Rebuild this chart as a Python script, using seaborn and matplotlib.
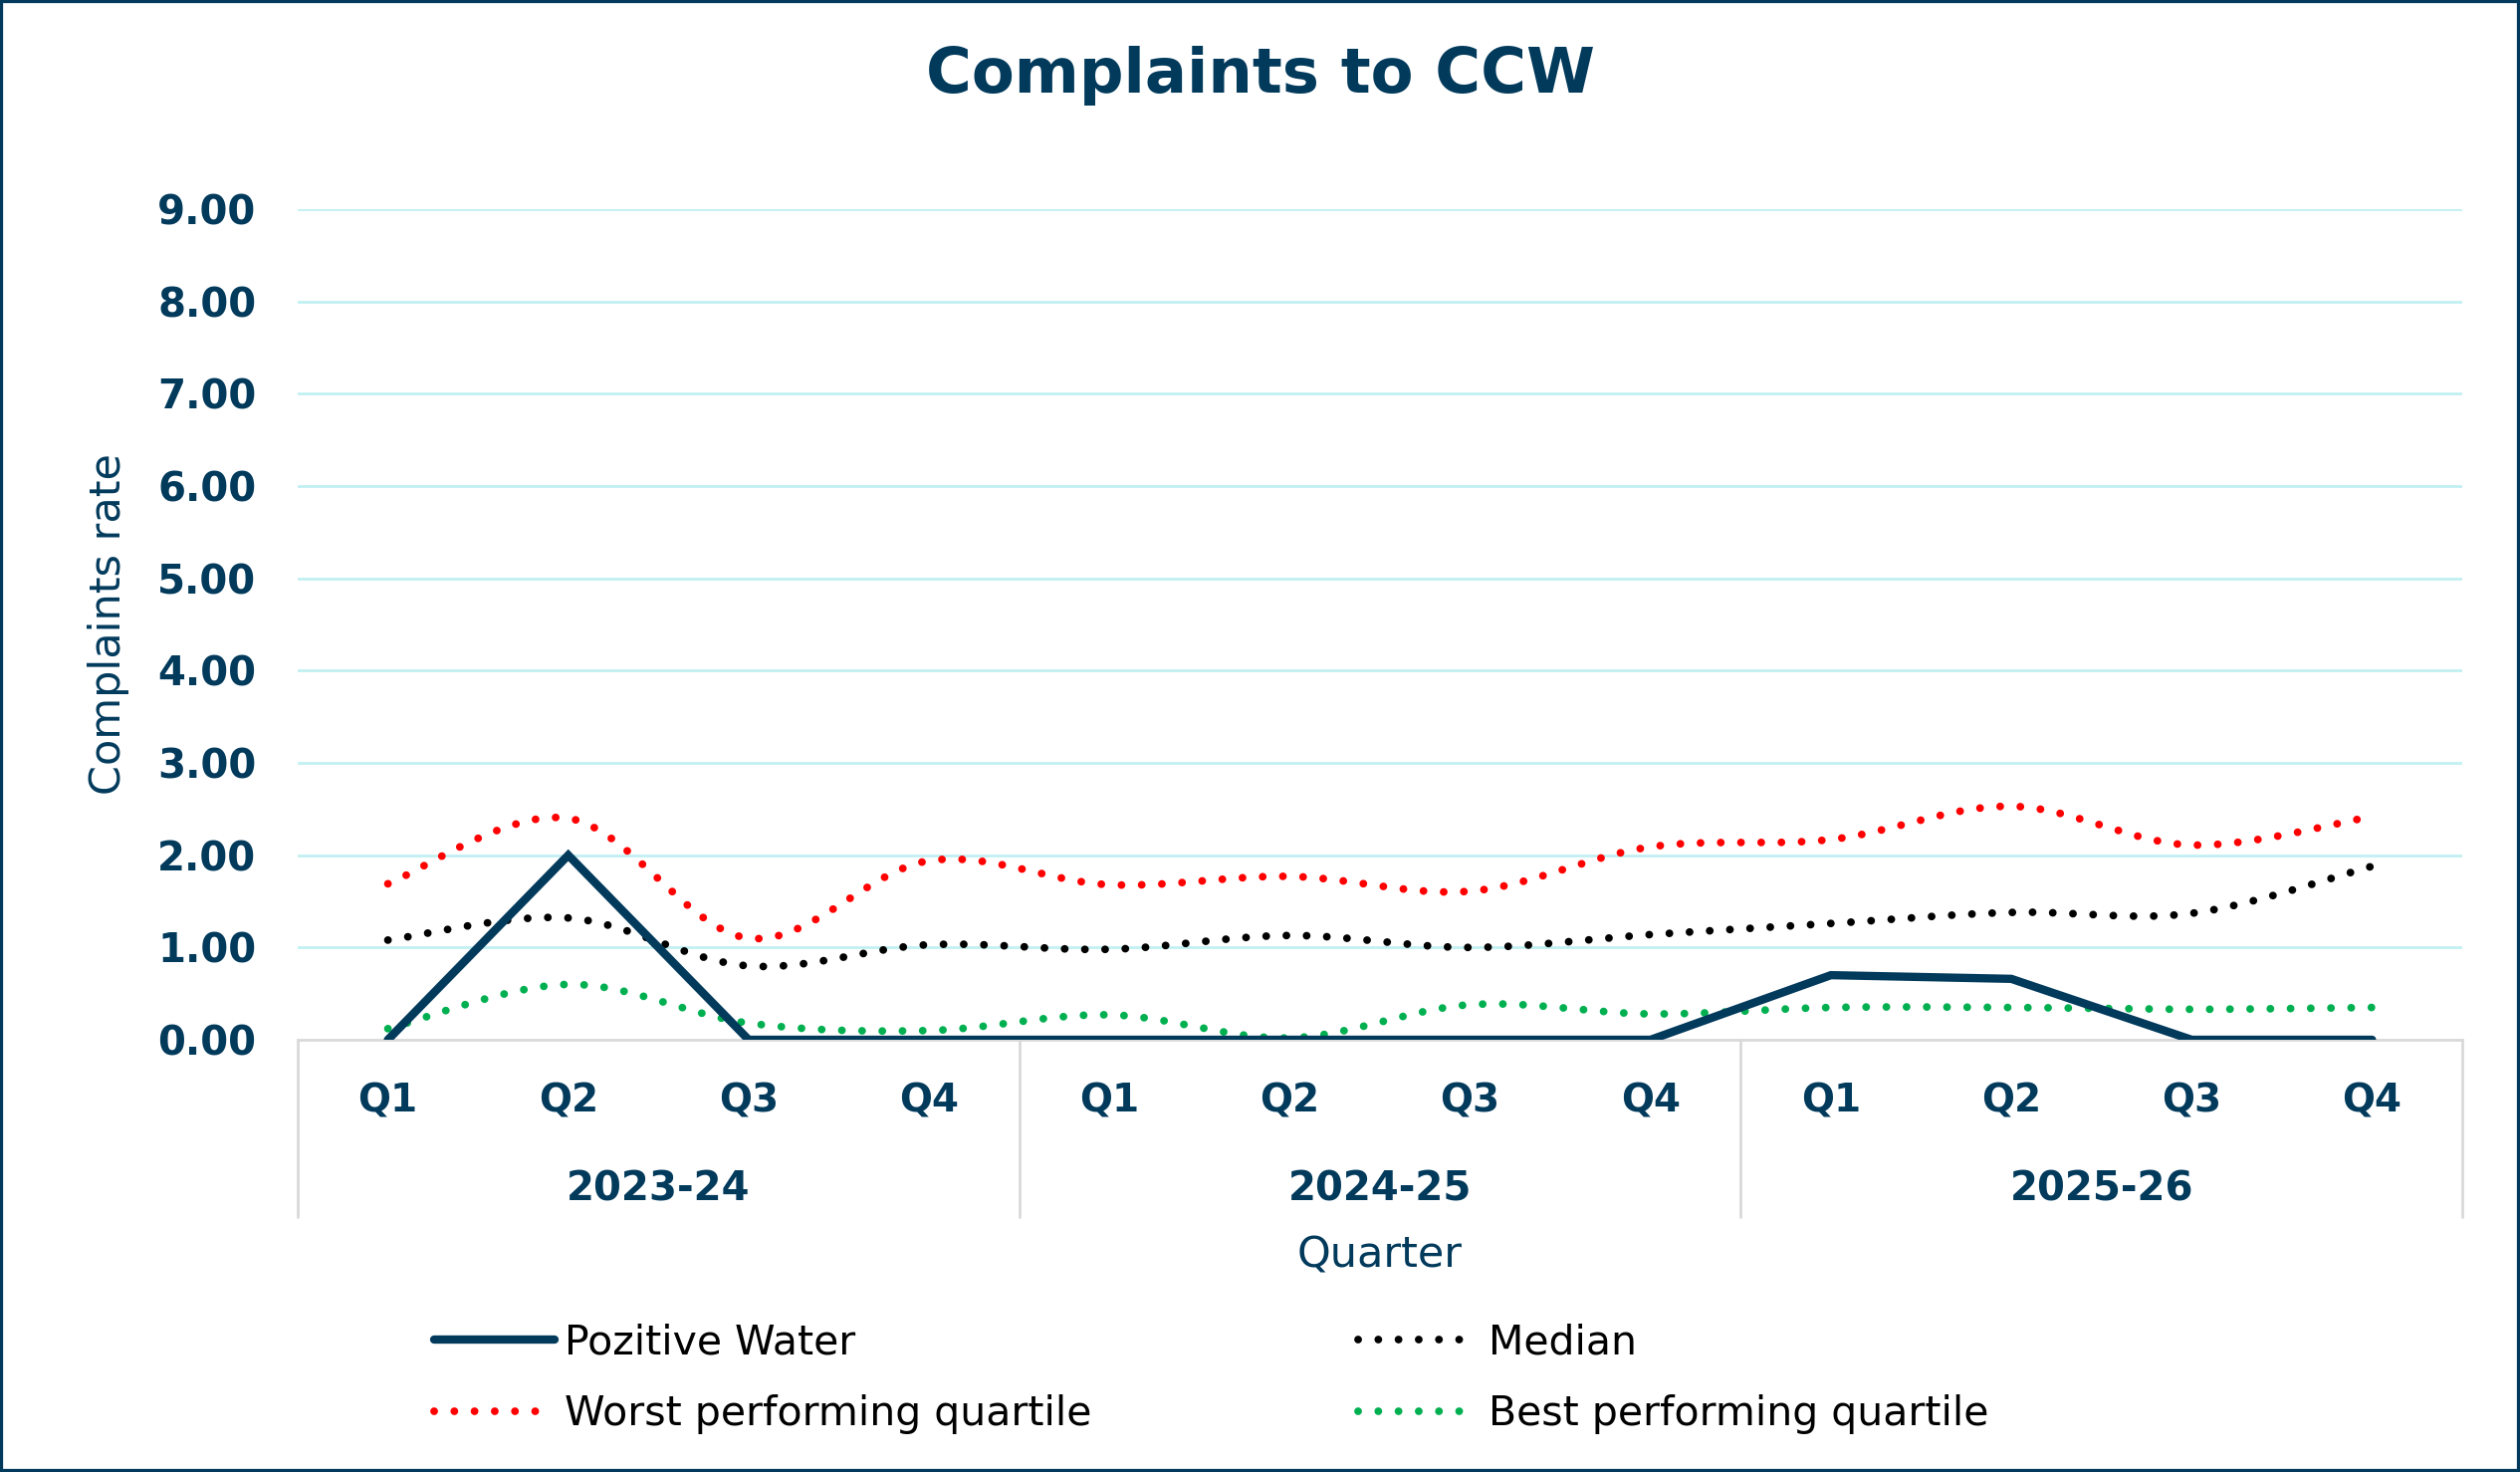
import numpy as np
import pandas as pd
import matplotlib
matplotlib.use("Agg")
import matplotlib.pyplot as plt
import seaborn as sns
from matplotlib.lines import Line2D
from matplotlib.patches import Rectangle

# ---------------- data ----------------
quarters = ["Q1", "Q2", "Q3", "Q4"] * 3
years = ["2023-24", "2024-25", "2025-26"]
pozitive_water = [0.00, 2.00, 0.00, 0.00, 0.00, 0.00, 0.00, 0.00, 0.70, 0.66, 0.00, 0.00]
median = [1.08, 1.32, 0.80, 1.03, 0.98, 1.13, 1.00, 1.14, 1.26, 1.38, 1.37, 1.88]
worst_quartile = [1.69, 2.40, 1.10, 1.94, 1.68, 1.77, 1.61, 2.09, 2.17, 2.53, 2.11, 2.42]
best_quartile = [0.12, 0.60, 0.18, 0.10, 0.27, 0.02, 0.38, 0.28, 0.35, 0.35, 0.33, 0.35]
y_ticks = [0, 1, 2, 3, 4, 5, 6, 7, 8, 9]

NAVY = "#023A5C"
RED = "#FF0000"
BLACK = "#000000"
GREEN = "#00B050"
GRID = "#C2F0F2"
AXGREY = "#D9D9D9"

sns.set_theme(style="white")
plt.rcParams["font.family"] = ["DejaVu Sans"]


def smooth(y, n=24):
    """Excel-style smoothed line (cubic Bezier / Catmull-Rom) through the points."""
    y = np.asarray(y, dtype=float)
    x = np.arange(len(y), dtype=float)
    xs, ys = [], []
    for i in range(len(y) - 1):
        p0x, p0y = (x[i - 1], y[i - 1]) if i > 0 else (x[i], y[i])
        p3x, p3y = (x[i + 2], y[i + 2]) if i + 2 < len(y) else (x[i + 1], y[i + 1])
        c1x = x[i] + (x[i + 1] - p0x) / 6
        c1y = y[i] + (y[i + 1] - p0y) / 6
        c2x = x[i + 1] - (p3x - x[i]) / 6
        c2y = y[i + 1] - (p3y - y[i]) / 6
        t = np.linspace(0, 1, n, endpoint=(i == len(y) - 2))
        bx = (1 - t) ** 3 * x[i] + 3 * (1 - t) ** 2 * t * c1x + 3 * (1 - t) * t ** 2 * c2x + t ** 3 * x[i + 1]
        by = (1 - t) ** 3 * y[i] + 3 * (1 - t) ** 2 * t * c1y + 3 * (1 - t) * t ** 2 * c2y + t ** 3 * y[i + 1]
        xs.append(bx)
        ys.append(by)
    return np.concatenate(xs), np.concatenate(ys)


W, H = 2531, 1478
fig = plt.figure(figsize=(W / 100, H / 100), dpi=100)
L, R, T, B = 299, 2473, 210, 1044
ax = fig.add_axes([L / W, 1 - B / H, (R - L) / W, (B - T) / H])

x_idx = np.arange(len(quarters))
DLW = 5.6
DOT = (0, (0.01, 2.6))
SLW = 6.0

# dotted, smoothed series
for vals, col in [(worst_quartile, RED), (median, BLACK), (best_quartile, GREEN)]:
    sx, sy = smooth(vals)
    sns.lineplot(x=sx, y=sy, ax=ax, color=col, linewidth=DLW, linestyle=DOT,
                 dash_capstyle="round", estimator=None, sort=False, legend=False, zorder=3)

# solid series
sns.lineplot(x=x_idx, y=pozitive_water, ax=ax, color=NAVY, linewidth=SLW,
             estimator=None, sort=False, legend=False, zorder=4,
             solid_capstyle="round", solid_joinstyle="miter")

ax.set_xlim(-0.5, len(quarters) - 0.5)
ax.set_ylim(0, 9)
ax.set_yticks(y_ticks)
ax.set_yticklabels([f"{v:.2f}" for v in y_ticks], fontsize=29, fontweight="bold", color=NAVY)
ax.tick_params(axis="y", length=0, pad=30)
ax.set_xticks([])
ax.grid(False)
for v in y_ticks[1:]:
    ax.axhline(v, color=GRID, lw=2.0, zorder=1)

for s in ["top", "right", "left"]:
    ax.spines[s].set_visible(False)
ax.spines["bottom"].set_color(AXGREY)
ax.spines["bottom"].set_linewidth(2.0)

ah = B - T
xt = ax.get_xaxis_transform()
for i, q in enumerate(quarters):
    ax.text(i, -62 / ah, q, transform=xt, ha="center", va="center",
            fontsize=28, fontweight="bold", color=NAVY)
for g, yr in enumerate(years):
    ax.text(g * 4 + 1.5, -150 / ah, yr, transform=xt, ha="center", va="center",
            fontsize=29, fontweight="bold", color=NAVY)
for xs_ in [-0.5, 3.5, 7.5, 11.5]:
    ax.plot([xs_, xs_], [0, -178 / ah], transform=xt, color=AXGREY, lw=2.0, clip_on=False)

ax.text(0.5, -216 / ah, "Quarter", transform=ax.transAxes, ha="center", va="center",
        fontsize=31, color=NAVY)
ax.set_ylabel("Complaints rate", fontsize=31, color=NAVY)
ax.yaxis.set_label_coords((130 - L) / (R - L), 0.5)

fig.text(0.5, 1 - 76 / H, "Complaints to CCW", ha="center", va="center",
         fontsize=45, fontweight="bold", color=NAVY)

# legend
h_pw = Line2D([], [], color=NAVY, lw=SLW, solid_capstyle="round")
h_md = Line2D([], [], color=BLACK, lw=DLW, linestyle=DOT, dash_capstyle="round")
h_wq = Line2D([], [], color=RED, lw=DLW, linestyle=DOT, dash_capstyle="round")
h_bq = Line2D([], [], color=GREEN, lw=DLW, linestyle=DOT, dash_capstyle="round")
leg_kw = dict(frameon=False, fontsize=29.5, handlelength=2.95, handletextpad=0.25,
              labelspacing=0.78, borderpad=0, borderaxespad=0, loc="upper left",
              labelcolor=BLACK)
leg1 = fig.legend([h_pw, h_wq], ["Pozitive Water", "Worst performing quartile"],
                  bbox_to_anchor=(436 / W, 1 - 1328 / H), **leg_kw)
leg2 = fig.legend([h_md, h_bq], ["Median", "Best performing quartile"],
                  bbox_to_anchor=(1364 / W, 1 - 1328 / H), **leg_kw)

fig.patches.append(Rectangle((0, 0), 1, 1, transform=fig.transFigure, fill=False,
                             edgecolor=NAVY, lw=4.5))

fig.savefig("out.png", dpi=100, facecolor="white")
